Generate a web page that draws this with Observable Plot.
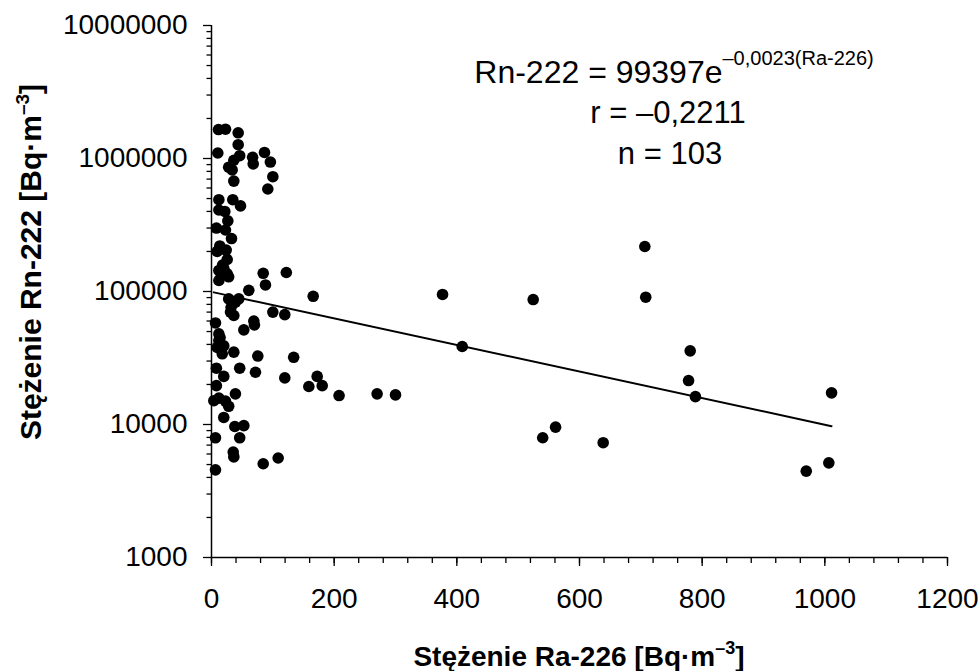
<!DOCTYPE html>
<html><head><meta charset="utf-8">
<script src="https://cdn.jsdelivr.net/npm/d3@7"></script>
<script src="https://cdn.jsdelivr.net/npm/@observablehq/plot@0.6"></script>
<style>
body{margin:0;background:#fff}
svg{display:block}
</style>
</head><body><div id="chart"></div>
<script>
// Ra-226 concentration [Bq/m3]
const raValues = [
 11.4, 22.8, 43.5, 43.5, 10.3, 46, 67, 68, 86.4, 96,
 36.4, 28, 33.7, 36.4, 100, 91.8, 12, 34.7, 47.3, 12,
 21.7, 26.6, 8, 22.8, 32.6, 13.5, 9.3, 25.6, 12, 20,
 25.6, 12, 28, 84.3, 122, 60.8, 88, 165.8, 28, 39,
 44.5, 31, 36.4, 100, 119.5, 6.5, 69, 70, 52.7, 12,
 12, 9.3, 20, 17.5, 36.4, 75.5, 134, 8, 46, 71.7,
 20, 119.5, 172.3, 158.7, 180.5, 8, 39, 3.8, 12, 22.8,
 28, 20, 208, 38, 52.7, 6.5, 46, 35.4, 36.4, 84.3,
 108.7, 6.5, 376.7, 408.8, 270, 300, 706.5, 524.5, 708, 780.5,
 777.8, 789, 1011, 561, 540, 638.6, 1006.5, 969.7, 16, 18,
 32, 14, 24
];
// Rn-222 concentration [Bq/m3]
const rnValues = [
 1650000, 1660000, 1560000, 1270000, 1100000, 1050000, 1020000, 910000, 1110000, 940000,
 970000, 860000, 820000, 676000, 730000, 590000, 490000, 490000, 440000, 410000,
 400000, 340000, 300000, 290000, 250000, 220000, 200000, 174000, 144000, 149000,
 136000, 121000, 129000, 137000, 139000, 102000, 112000, 92000, 88000, 83000,
 88000, 70000, 66000, 70000, 67000, 58000, 60000, 56000, 51500, 48000,
 42800, 38000, 39000, 34000, 35000, 32700, 32000, 26500, 26500, 24700,
 23000, 22400, 23000, 19300, 19600, 19600, 17000, 15100, 15800, 15000,
 13700, 11300, 16500, 9660, 9800, 7940, 7940, 6200, 5700, 5070,
 5600, 4560, 95000, 38600, 17000, 16700, 218000, 87000, 90600, 35800,
 21400, 16200, 17300, 9550, 7950, 7300, 5150, 4460, 133000, 158000,
 76000, 45000, 205000
];
const xTicks = [0, 200, 400, 600, 800, 1000, 1200];
const xMinorTicks = d3.range(0, 1201, 40);
const yTicks = [1000, 10000, 100000, 1000000, 10000000];
const yMinorTicks = [1000, 10000, 100000, 1000000].flatMap(d => [2,3,4,5,6,7,8,9].map(m => m * d));
const fitA = 99397, fitB = -0.0023;

const points = raValues.map((x, i) => ({x, y: rnValues[i]}));
const fitLine = d3.extent(raValues).map(x => ({x, y: fitA * Math.exp(fitB * x)}));

const font = "'Liberation Sans', Arial, sans-serif";

const plot = Plot.plot({
  width: 980,
  height: 671,
  marginLeft: 211,
  marginRight: 33,
  marginTop: 25,
  marginBottom: 114,
  style: {fontFamily: font, fontSize: "28px", color: "#000", background: "#fff", overflow: "visible"},
  x: {domain: [0, 1200], axis: null},
  y: {type: "log", domain: [1000, 10000000], axis: null},
  marks: [
    Plot.axisX(xMinorTicks, {tickSize: 6, tickFormat: () => "", label: null, strokeWidth: 1.3}),
    Plot.axisX(xTicks, {tickSize: 9, tickPadding: 22, tickFormat: d => String(d), label: null, fontSize: 28, strokeWidth: 1.3}),
    Plot.axisY(yMinorTicks, {tickSize: 4.5, tickFormat: () => "", label: null, strokeWidth: 1.3}),
    Plot.axisY(yTicks, {tickSize: 8, tickPadding: 16, tickFormat: d3.format("d"), label: null, fontSize: 28, strokeWidth: 1.3}),
    Plot.ruleX([0], {stroke: "#000", strokeWidth: 1.5}),
    Plot.ruleY([1000], {stroke: "#000", strokeWidth: 1.5}),
    Plot.line(fitLine, {x: "x", y: "y", stroke: "#000", strokeWidth: 2}),
    Plot.dot(points, {x: "x", y: "y", r: 5.8, fill: "#000", stroke: "none"})
  ]
});

document.getElementById("chart").append(plot);

const svg = d3.select(plot);
// equation block
const eq = svg.append("g").attr("font-family", font).attr("fill", "#000");
const t1 = eq.append("text").attr("x", 674).attr("y", 83).attr("text-anchor", "middle").attr("font-size", 32);
t1.append("tspan").text("Rn-222 = 99397e");
t1.append("tspan").attr("dy", -18).attr("font-size", 20).text("\u20130,0023(Ra-226)");
eq.append("text").attr("x", 668).attr("y", 123).attr("text-anchor", "middle").attr("font-size", 31).text("r = \u20130,2211");
eq.append("text").attr("x", 670).attr("y", 164).attr("text-anchor", "middle").attr("font-size", 31).text("n = 103");

// axis titles
const xt = svg.append("text").attr("x", 579).attr("y", 666).attr("text-anchor", "middle")
  .attr("font-family", font).attr("font-weight", "bold").attr("font-size", 28).attr("fill", "#000");
xt.append("tspan").text("Stężenie Ra-226 [Bq·m");
xt.append("tspan").attr("dy", -12).attr("font-size", 18).text("\u20133");
xt.append("tspan").attr("dy", 12).text("]");

const yt = svg.append("text").attr("transform", "translate(41,262) rotate(-90)").attr("text-anchor", "middle")
  .attr("font-family", font).attr("font-weight", "bold").attr("font-size", 30).attr("fill", "#000");
yt.append("tspan").text("Stężenie Rn-222 [Bq·m");
yt.append("tspan").attr("dy", -12).attr("font-size", 19).text("\u20133");
yt.append("tspan").attr("dy", 12).text("]");
</script>
</body></html>
